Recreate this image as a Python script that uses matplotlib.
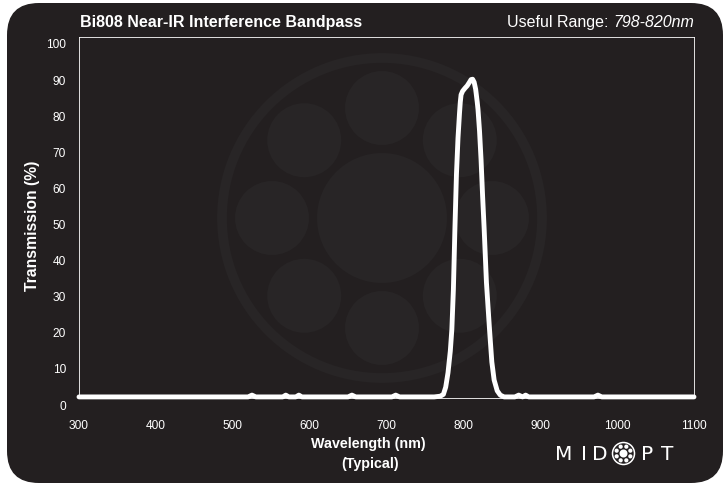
import numpy as np
import matplotlib
matplotlib.use("Agg")
import matplotlib.pyplot as plt
from matplotlib.patches import FancyBboxPatch, Circle
from matplotlib.transforms import ScaledTranslation

# ---- data ----
wavelength = [300, 520, 525, 530, 565, 569, 573, 582, 586, 590, 650, 655, 660,
              707, 712, 717, 762, 770, 774, 777, 780, 783, 785, 787, 789, 791,
              793, 795, 796, 797, 799, 802, 805, 808, 810, 812, 814, 816, 818,
              819, 821, 823, 825, 827, 830, 834, 837, 840, 844, 848, 853, 867,
              872, 877, 881, 885, 889, 970, 975, 980, 1025, 1100]
transmission = [0.3, 0.3, 0.8, 0.3, 0.3, 0.8, 0.3, 0.3, 0.8, 0.3, 0.3, 0.8, 0.3,
                0.3, 0.8, 0.3, 0.3, 0.5, 1.0, 3, 7, 13, 19, 30, 47, 62,
                72, 79, 82, 84, 85, 85.8, 86.5, 87.5, 88.2, 88.3, 87.5, 85.5, 82,
                80, 74, 66, 56, 47, 32, 19, 10, 5, 2, 0.8, 0.3, 0.3,
                0.8, 0.3, 0.8, 0.3, 0.3, 0.3, 0.8, 0.3, 0.3, 0.3]
x_ticks = [300, 400, 500, 600, 700, 800, 900, 1000, 1100]
y_ticks = [0, 10, 20, 30, 40, 50, 60, 70, 80, 90, 100]
title_left = "Bi808 Near-IR Interference Bandpass"
title_right_a = "Useful Range: "
title_right_b = "798-820nm"
x_label_1 = "Wavelength (nm)"
x_label_2 = "(Typical)"
y_label = "Transmission (%)"

W, H = 725, 484
BG = "#231f20"
WM = "#282526"

plt.rcParams['font.family'] = ['Liberation Sans', 'DejaVu Sans']

fig = plt.figure(figsize=(W / 100, H / 100), dpi=100)
fig.patch.set_facecolor("white")

# background overlay in pixel coordinates
bg = fig.add_axes([0, 0, 1, 1], zorder=0)
bg.set_xlim(0, W)
bg.set_ylim(H, 0)
bg.axis("off")
card = FancyBboxPatch((7, 3), 716, 480, boxstyle="round,pad=0,rounding_size=32",
                      facecolor=BG, edgecolor="none")
bg.add_patch(card)
cx, cy = 382, 218
bg.add_patch(Circle((cx, cy), 160, facecolor="none", edgecolor=WM, linewidth=7.0))
bg.add_patch(Circle((cx, cy), 65, facecolor=WM, edgecolor="none"))
for k in range(8):
    a = np.deg2rad(90 + 45 * k)
    bg.add_patch(Circle((cx + 110 * np.cos(a), cy - 110 * np.sin(a)), 37,
                        facecolor=WM, edgecolor="none"))

# MIDOPT logo
lx, ly = 623.5, 453.5
for ch, xx in [("M", 563.5), ("I", 584), ("D", 600), ("P", 647), ("T", 667)]:
    bg.text(xx, ly + 0.5, ch, color="white", fontsize=14.5, family="DejaVu Sans",
            ha="center", va="center")
bg.add_patch(Circle((lx, ly), 11, facecolor="none", edgecolor="white", linewidth=1.1))
bg.add_patch(Circle((lx, ly), 4.0, facecolor="white", edgecolor="none"))
for k in range(8):
    a = np.deg2rad(22.5 + 45 * k)
    bg.add_patch(Circle((lx + 7.4 * np.cos(a), ly - 7.4 * np.sin(a)), 2.1,
                        facecolor="white", edgecolor="none"))

# main axes
l, r, t, b = 79, 694, 37, 398
ax = fig.add_axes([l / W, 1 - b / H, (r - l) / W, (b - t) / H], zorder=1)
ax.set_facecolor("none")
ax.plot(wavelength, transmission, color="white", linewidth=3.5,
        solid_capstyle="round", solid_joinstyle="round", clip_on=False, zorder=3)
ax.set_xlim(300, 1100)
ax.set_ylim(0, 100)
ax.set_xticks(x_ticks)
ax.set_yticks(y_ticks)
ax.set_xticklabels([str(v) for v in x_ticks])
ax.set_yticklabels([str(v) for v in y_ticks])
ax.tick_params(axis="both", length=0, colors="white", labelsize=8.6)
ax.tick_params(axis="x", pad=16)
ax.tick_params(axis="y", pad=9.5)
off = ScaledTranslation(0, -7.0 / 100, fig.dpi_scale_trans)
for lab in ax.get_yticklabels():
    lab.set_transform(lab.get_transform() + off)
for s in ax.spines.values():
    s.set_color("white")
    s.set_linewidth(0.6)

def px(x, y):
    return x / W, 1 - y / H

fig.text(*px(80, 22.5), title_left, color="white", fontsize=11.5,
         fontweight="bold", ha="left", va="center")
t2 = fig.text(*px(694, 22.5), title_right_b, color="white", fontsize=11.5,
              style="italic", ha="right", va="center")
fig.canvas.draw()
bb = t2.get_window_extent()
fig.text(bb.x0 / W, 1 - 22.5 / H, title_right_a, color="white", fontsize=11.5,
         ha="right", va="center")

fig.text(*px(368, 444), x_label_1, color="white", fontsize=10.3,
         fontweight="bold", ha="center", va="center")
fig.text(*px(370, 464), x_label_2, color="white", fontsize=10.3,
         fontweight="bold", ha="center", va="center")
fig.text(*px(33, 226), y_label, color="white", fontsize=11.3,
         fontweight="bold", ha="center", va="center", rotation=90)

fig.savefig("out.png", dpi=100, facecolor="white")
